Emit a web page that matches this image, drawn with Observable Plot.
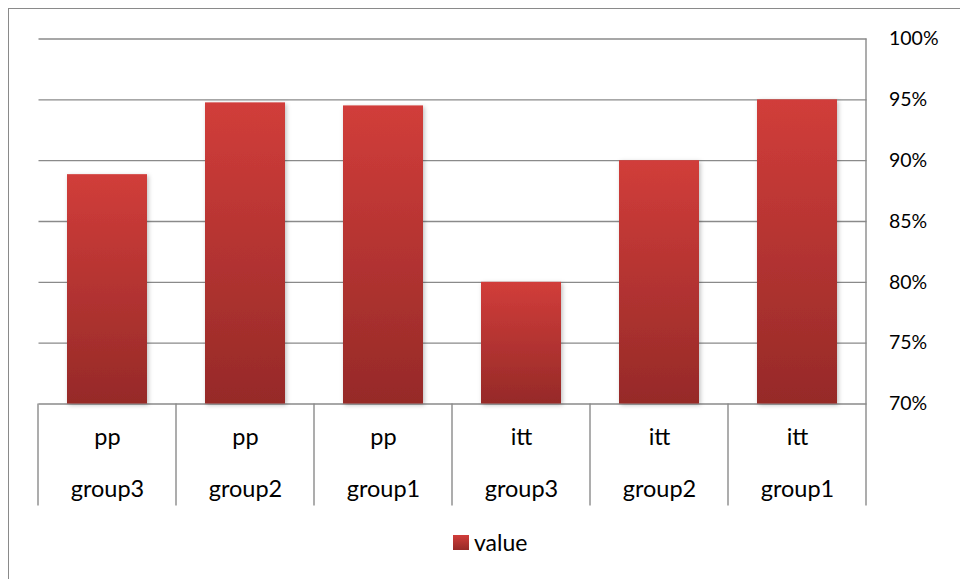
<!DOCTYPE html>
<html>
<head>
<meta charset="utf-8">
<script src="https://cdn.jsdelivr.net/npm/d3@7"></script>
<script src="https://cdn.jsdelivr.net/npm/@observablehq/plot@0.6"></script>
<style>
  html, body { margin: 0; padding: 0; background: #fff; }
  #wrap { position: relative; width: 960px; height: 579px; overflow: hidden; }
  #frame { position: absolute; left: 8px; top: 8px; width: 1000px; height: 1000px;
           border-left: 1.5px solid #8a8a8a; border-top: 1.5px solid #8a8a8a; box-sizing: border-box; pointer-events: none; }
  svg { display: block; }
</style>
</head>
<body>
<div id="wrap"><div id="chart"></div><div id="frame"></div></div>
<script>
// ---- data ----
const groups    = ["pp", "pp", "pp", "itt", "itt", "itt"];
const subgroups = ["group3", "group2", "group1", "group3", "group2", "group1"];
const values    = [0.8885, 0.9475, 0.945, 0.80, 0.90, 0.95];
const yTicks    = [0.70, 0.75, 0.80, 0.85, 0.90, 0.95, 1.00];
const seriesName = "value";

const keys = groups.map((g, i) => `${g} ${subgroups[i]}`);
const data = keys.map((k, i) => ({key: k, group: groups[i], sub: subgroups[i], value: values[i]}));

const FONT = "Lato, 'Open Sans', sans-serif";
const yMin = yTicks[0];

const plot = Plot.plot({
  width: 960,
  height: 579,
  marginLeft: 38.5,
  marginRight: 93.5,
  marginTop: 38.5,
  marginBottom: 175.5,
  style: {fontFamily: FONT, fontSize: "19.5px", color: "#000", background: "transparent"},
  x: {domain: keys, paddingInner: 0.42, paddingOuter: 0.21, axis: null},
  y: {domain: [yMin, yTicks[yTicks.length - 1]], ticks: yTicks, tickFormat: d3.format(".0%"),
      axis: "right", tickSize: 0, tickPadding: 22, label: null},
  marks: [
    Plot.ruleY(yTicks, {stroke: "#8a8a8a", strokeWidth: 1.4}),
    Plot.barY(data, {x: "key", y1: yMin, y2: "value", fill: "url(#barGrad)"}),
    Plot.text(data, {x: "key", y: () => yMin, text: "group", dy: 33, fill: "#000", fontSize: 23.5}),
    Plot.text(data, {x: "key", y: () => yMin, text: "sub", dy: 85, fill: "#000", fontSize: 23.5})
  ]
});

document.getElementById("chart").appendChild(plot);

const svg = d3.select(plot);
const defs = svg.insert("defs", ":first-child");
const grad = defs.append("linearGradient").attr("id", "barGrad")
  .attr("x1", 0).attr("y1", 0).attr("x2", 0).attr("y2", 1);
grad.append("stop").attr("offset", "0%").attr("stop-color", "#d13d3a");
grad.append("stop").attr("offset", "100%").attr("stop-color", "#962a28");
const flt = defs.append("filter").attr("id", "shadow").attr("x", "-20%").attr("y", "-20%").attr("width", "140%").attr("height", "140%");
flt.append("feDropShadow").attr("dx", 1.5).attr("dy", 1.5).attr("stdDeviation", 2).attr("flood-color", "#000").attr("flood-opacity", 0.25);
svg.selectAll("rect").filter(function() { return this.getAttribute("fill") === "url(#barGrad)" || (this.parentNode && this.parentNode.getAttribute("fill") === "url(#barGrad)"); })
  .attr("filter", "url(#shadow)");

// category separators derived from the x band scale
const xs = plot.scale("x");
const ys = plot.scale("y");
const step = xs.step ?? ((xs.range[1] - xs.range[0]) / keys.length);
const bw = xs.bandwidth;
const edges = keys.map(k => xs.apply(k) - (step - bw) / 2);
edges.push(xs.apply(keys[keys.length - 1]) + bw + (step - bw) / 2);
const yBase = ys.apply(yMin);
const yTop = ys.apply(yTicks[yTicks.length - 1]);
const sepLen = 102;
const g = svg.append("g").attr("stroke", "#8a8a8a").attr("stroke-width", 1.4);
edges.forEach((x, i) => {
  g.append("line").attr("x1", x).attr("x2", x)
    .attr("y1", i === edges.length - 1 ? yTop : yBase).attr("y2", yBase + sepLen);
});

// legend
const lg = svg.append("g").attr("text-anchor", "start");
const cx = (edges[0] + edges[edges.length - 1]) / 2;
const lgY = 543;
lg.append("rect").attr("x", cx + 1).attr("y", lgY - 8).attr("width", 16).attr("height", 15).attr("fill", "url(#barGrad)");
lg.append("text").attr("x", cx + 22).attr("y", lgY).attr("dy", "0.35em").attr("text-anchor", "start")
  .attr("font-family", FONT).attr("font-size", 23).attr("fill", "#000").text(seriesName);
</script>
</body>
</html>
